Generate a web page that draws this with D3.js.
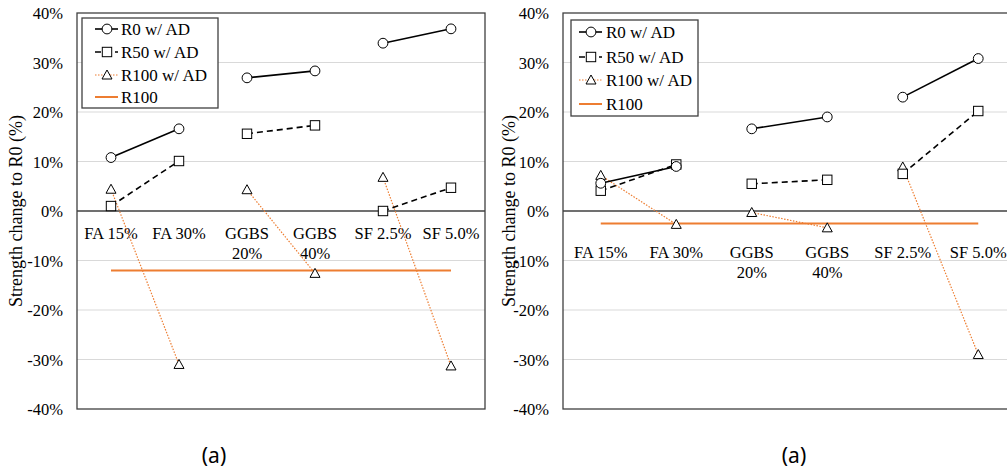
<!DOCTYPE html>
<html>
<head>
<meta charset="utf-8">
<script src="https://cdn.jsdelivr.net/npm/d3@7"></script>
<style>
  body { margin: 0; background: #fff; }
  svg { display: block; }
  text { fill: #000; }
</style>
</head>
<body>
<svg id="chart" width="1007" height="473"></svg>
<script>
// categories and tick values
const categories = ['FA 15%', 'FA 30%', 'GGBS 20%', 'GGBS 40%', 'SF 2.5%', 'SF 5.0%'];
const yTicks = [-0.4, -0.3, -0.2, -0.1, 0, 0.1, 0.2, 0.3, 0.4];
const seriesNames = ['R0 w/ AD', 'R50 w/ AD', 'R100 w/ AD', 'R100'];

// panel 1 values (fraction)
const leftR0 = [0.108, 0.166, 0.269, 0.283, 0.339, 0.368];
const leftR50 = [0.010, 0.101, 0.156, 0.173, 0.000, 0.047];
const leftR100 = [0.044, -0.310, 0.043, -0.126, 0.068, -0.313];
const leftR100Base = -0.12;

// panel 2 values (fraction)
const rightR0 = [0.056, 0.090, 0.166, 0.190, 0.230, 0.308];
const rightR50 = [0.041, 0.094, 0.055, 0.063, 0.075, 0.202];
const rightR100 = [0.072, -0.027, -0.003, -0.034, 0.089, -0.290];
const rightR100Base = -0.025;

const orange = '#ed7d31';
const serif = "'Liberation Serif', 'Times New Roman', serif";
const sans = "'Noto Sans', 'Open Sans', sans-serif";

const panels = [
  { left: 77, right: 485, r0: leftR0, r50: leftR50, r100: leftR100, base: leftR100Base,
    labelY: 238.5, titleX: 16, capX: 214, legend: { x: 82, y: 18, w: 136, h: 90, rows: [29, 52, 75, 97], lx: 95, tx: 121 } },
  { left: 563, right: 1016, r0: rightR0, r50: rightR50, r100: rightR100, base: rightR100Base,
    labelY: 257.5, titleX: 509, capX: 794, legend: { x: 571, y: 20, w: 127, h: 96, rows: [32, 57, 80, 104], lx: 579, tx: 606 } }
];

const plotTop = 13;
const plotBottom = 409;

const svg = d3.select('#chart')
              .style('font-family', serif);

// pairs of categories that are joined by lines
const pairs = [[0, 1], [2, 3], [4, 5]];

panels.forEach(drawPanel);

function drawPanel(p) {
  const g = svg.append('g');

  const x = d3.scaleBand()
              .domain(categories)
              .range([p.left, p.right]);
  const y = d3.scaleLinear()
              .domain([-0.4, 0.4])
              .range([plotBottom, plotTop]);
  const cx = d => x(d) + x.bandwidth() / 2;

  // gridlines
  g.append('g')
   .selectAll('line')
   .data(yTicks.filter(t => t !== 0 && Math.abs(t) !== 0.4))
   .enter().append('line')
   .attr('x1', p.left).attr('x2', p.right)
   .attr('y1', d => y(d)).attr('y2', d => y(d))
   .attr('stroke', '#d9d9d9').attr('stroke-width', 1);

  // y axis labels
  const yAxis = d3.axisLeft(y)
                  .tickValues(yTicks)
                  .tickSize(0)
                  .tickPadding(14);
  const yg = g.append('g')
              .attr('transform', translate(p.left, 0))
              .call(yAxis);
  yg.select('.domain').remove();
  yg.attr('font-family', null).attr('font-size', null);
  yg.selectAll('text')
    .attr('dy', '0.35em')
    .style('font-family', serif)
    .style('font-size', '16.5px')
    .text(d => Math.round(d * 100) + '%');

  // frame
  g.append('rect')
   .attr('x', p.left).attr('y', plotTop)
   .attr('width', p.right - p.left).attr('height', plotBottom - plotTop)
   .attr('fill', 'none').attr('stroke', '#404040').attr('stroke-width', 1.3);

  // zero line
  g.append('line')
   .attr('x1', p.left).attr('x2', p.right)
   .attr('y1', y(0)).attr('y2', y(0))
   .attr('stroke', '#404040').attr('stroke-width', 1.3);

  // category labels (wrapped onto two lines for GGBS)
  const labels = g.append('g')
                  .selectAll('text')
                  .data(categories)
                  .enter().append('text')
                  .attr('text-anchor', 'middle')
                  .style('font-family', serif)
                  .style('font-size', '16.5px');
  labels.each(function(d) {
    const words = d.startsWith('GGBS') ? d.split(' ') : [d];
    d3.select(this).selectAll('tspan')
      .data(words)
      .enter().append('tspan')
      .attr('x', cx(d))
      .attr('y', (w, i) => p.labelY + i * 20)
      .text(w => w);
  });

  // R100 reference line
  g.append('line')
   .attr('x1', cx(categories[0])).attr('x2', cx(categories[5]))
   .attr('y1', y(p.base)).attr('y2', y(p.base))
   .attr('stroke', orange).attr('stroke-width', 2);

  // series lines
  const line = d3.line().x(d => cx(categories[d.i])).y(d => y(d.v));
  const seg = (vals, stroke, dash, width) => {
    pairs.forEach(pr => {
      g.append('path')
       .attr('d', line(pr.map(i => ({ i: i, v: vals[i] }))))
       .attr('fill', 'none')
       .attr('stroke', stroke)
       .attr('stroke-width', width)
       .attr('stroke-dasharray', dash);
    });
  };
  seg(p.r100, orange, '1.5,1.5', 1.2);
  seg(p.r50, '#000', '6,4', 1.6);
  seg(p.r0, '#000', null, 1.6);

  // markers
  const marks = g.append('g')
                 .attr('fill', '#fff')
                 .attr('stroke', '#000')
                 .attr('stroke-width', 1);
  marks.append('g').selectAll('path')
       .data(p.r100).enter().append('path')
       .attr('d', triangle(0, 0))
       .attr('transform', (d, i) => translate(cx(categories[i]), y(d)));
  marks.append('g').selectAll('rect')
       .data(p.r50).enter().append('rect')
       .attr('x', (d, i) => cx(categories[i]) - 4.7)
       .attr('y', d => y(d) - 4.7)
       .attr('width', 9.4).attr('height', 9.4);
  marks.append('g').selectAll('circle')
       .data(p.r0).enter().append('circle')
       .attr('cx', (d, i) => cx(categories[i]))
       .attr('cy', d => y(d))
       .attr('r', 4.9);

  drawLegend(g, p.legend);

  // axis title
  g.append('text')
   .attr('transform', translate(p.titleX, 211) + ' rotate(-90)')
   .attr('text-anchor', 'middle')
   .attr('dy', '0.35em')
   .style('font-family', serif)
   .style('font-size', '18px')
   .text('Strength change to R0 (%)');

  // caption
  g.append('text')
   .attr('x', p.capX).attr('y', 463)
   .attr('text-anchor', 'middle')
   .style('font-family', sans)
   .style('font-size', '21px')
   .text('(a)');
}

function drawLegend(g, L) {
  const lg = g.append('g');
  lg.append('rect')
    .attr('x', L.x).attr('y', L.y)
    .attr('width', L.w).attr('height', L.h)
    .attr('fill', '#fff').attr('stroke', '#404040').attr('stroke-width', 1.3);

  const lx2 = L.lx + 23;
  const mx = L.lx + 12;
  const styles = [
    { stroke: '#000', dash: null, w: 1.6 },
    { stroke: '#000', dash: '6,4', w: 1.6 },
    { stroke: orange, dash: '1.5,1.5', w: 1.2 },
    { stroke: orange, dash: null, w: 2 }
  ];

  seriesNames.forEach((name, i) => {
    const yy = L.rows[i];
    lg.append('line')
      .attr('x1', L.lx).attr('x2', lx2)
      .attr('y1', yy).attr('y2', yy)
      .attr('stroke', styles[i].stroke)
      .attr('stroke-width', styles[i].w)
      .attr('stroke-dasharray', styles[i].dash);
    let m;
    if (i === 0) m = lg.append('circle').attr('cx', mx).attr('cy', yy).attr('r', 4.9);
    if (i === 1) m = lg.append('rect').attr('x', mx - 4.7).attr('y', yy - 4.7).attr('width', 9.4).attr('height', 9.4);
    if (i === 2) m = lg.append('path').attr('d', triangle(mx, yy));
    if (m) m.attr('fill', '#fff').attr('stroke', '#000').attr('stroke-width', 1);
    lg.append('text')
      .attr('x', L.tx).attr('y', yy)
      .attr('dy', '0.35em')
      .style('font-family', serif)
      .style('font-size', '17px')
      .text(name);
  });
}

function triangle(x, y) {
  return 'M' + x + ',' + (y - 5) + 'L' + (x + 5) + ',' + (y + 4) + 'L' + (x - 5) + ',' + (y + 4) + 'Z';
}

function translate(x, y) {
  return 'translate(' + String(x) + ',' + String(y) + ')';
}
</script>
</body>
</html>
